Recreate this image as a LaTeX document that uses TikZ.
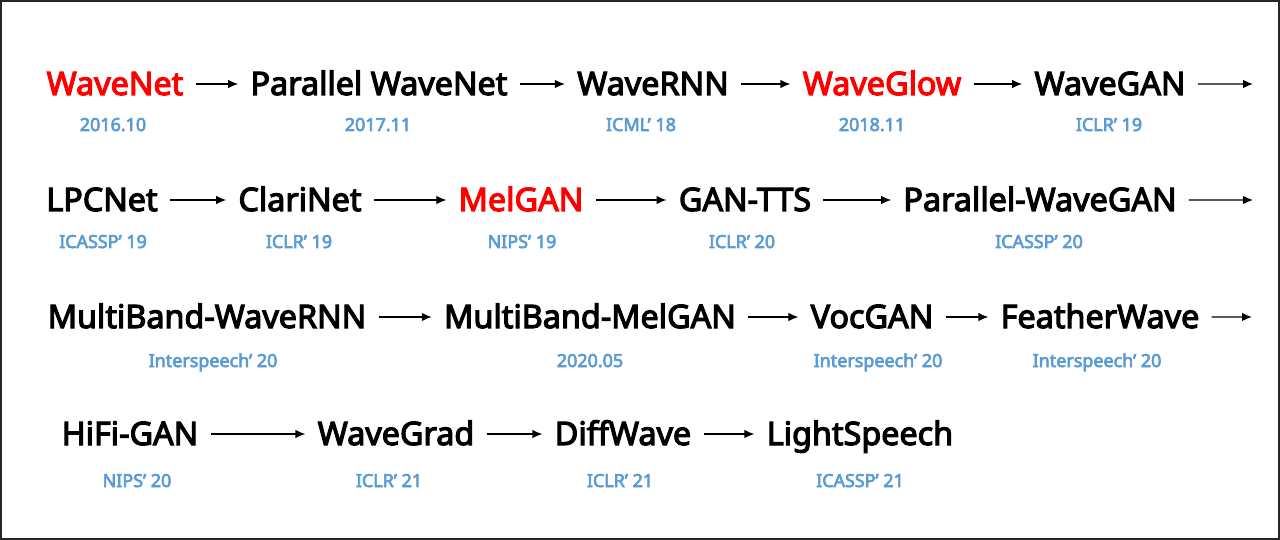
\documentclass[tikz,border=0pt]{standalone}
\usepackage{fontspec}
\setmainfont[AutoFakeBold=3.6]{Noto Sans}
\usetikzlibrary{arrows.meta,positioning}
\definecolor{venueblue}{HTML}{5B9BD5}
\definecolor{hot}{HTML}{FF0000}
\definecolor{frame}{HTML}{262626}

\begin{document}
\begin{tikzpicture}[x=0.02cm,y=-0.02cm,>={Latex[length=2mm,width=1.7mm]},
    model/.style={font=\bfseries\fontsize{18.4}{21}\selectfont,anchor=base,
                  inner xsep=2.4mm,inner ysep=0pt,text height=4.4mm,text depth=0pt},
    key/.style={model,text=hot},
    venue/.style={font=\bfseries\fontsize{10.2}{12}\selectfont,text=venueblue,
                  anchor=base,inner sep=0pt},
    flow/.style={->,line width=0.7pt}]
    \useasboundingbox (0,0) rectangle (1280,540);
    \draw[frame,line width=1.2pt] (1,1) rectangle (1279,539);

    % 2016 - 2019
    \node[key]   (wavenet)  at (115,95)  {WaveNet};
    \node[model] (pwavenet) at (379,95)  {Parallel WaveNet};
    \node[model] (wavernn)  at (653,95)  {WaveRNN};
    \node[key]   (waveglow) at (882,95)  {WaveGlow};
    \node[model] (wavegan)  at (1110,95) {WaveGAN};
    \coordinate (end1) at (1253,84);
    \node[venue] at (113,131)  {2016.10};
    \node[venue] at (378,131)  {2017.11};
    \node[venue] at (641,131)  {ICML’ 18};
    \node[venue] at (872,131)  {2018.11};
    \node[venue] at (1109,131) {ICLR’ 19};

    \node[model] (lpcnet)   at (102,211)  {LPCNet};
    \node[model] (clarinet) at (300,211)  {ClariNet};
    \node[key]   (melgan)   at (521,211)  {MelGAN};
    \node[model] (gantts)   at (745,211)  {GAN-TTS};
    \node[model] (pwg)      at (1040,211) {Parallel-WaveGAN};
    \coordinate (end2) at (1253,200);
    \node[venue] at (103,248)  {ICASSP’ 19};
    \node[venue] at (299,248)  {ICLR’ 19};
    \node[venue] at (522,248)  {NIPS’ 19};
    \node[venue] at (742,248)  {ICLR’ 20};
    \node[venue] at (1039,248) {ICASSP’ 20};

    % 2020 - 2021
    \node[model] (mbwavernn)   at (207,328)  {MultiBand-WaveRNN};
    \node[model] (mbmelgan)    at (590,328)  {MultiBand-MelGAN};
    \node[model] (vocgan)      at (872,328)  {VocGAN};
    \node[model] (featherwave) at (1100,328) {FeatherWave};
    \coordinate (end3) at (1252,317);
    \node[venue] at (213,367)  {Interspeech’ 20};
    \node[venue] at (590,367)  {2020.05};
    \node[venue] at (878,367)  {Interspeech’ 20};
    \node[venue] at (1097,367) {Interspeech’ 20};

    \node[model] (hifigan)     at (130,445) {HiFi-GAN};
    \node[model] (wavegrad)    at (396,445) {WaveGrad};
    \node[model] (diffwave)    at (623,445) {DiffWave};
    \node[model] (lightspeech) at (860,445) {LightSpeech};
    \node[venue] at (137,487) {NIPS’ 20};
    \node[venue] at (389,487) {ICLR’ 21};
    \node[venue] at (620,487) {ICLR’ 21};
    \node[venue] at (860,487) {ICASSP’ 21};

    \foreach \a/\b in {wavenet/pwavenet,pwavenet/wavernn,wavernn/waveglow,
        waveglow/wavegan,wavegan/end1,lpcnet/clarinet,clarinet/melgan,
        melgan/gantts,gantts/pwg,pwg/end2,mbwavernn/mbmelgan,mbmelgan/vocgan,
        vocgan/featherwave,featherwave/end3,hifigan/wavegrad,
        wavegrad/diffwave,diffwave/lightspeech}
        \draw[flow] (\a) -- (\b);
\end{tikzpicture}
\end{document}
